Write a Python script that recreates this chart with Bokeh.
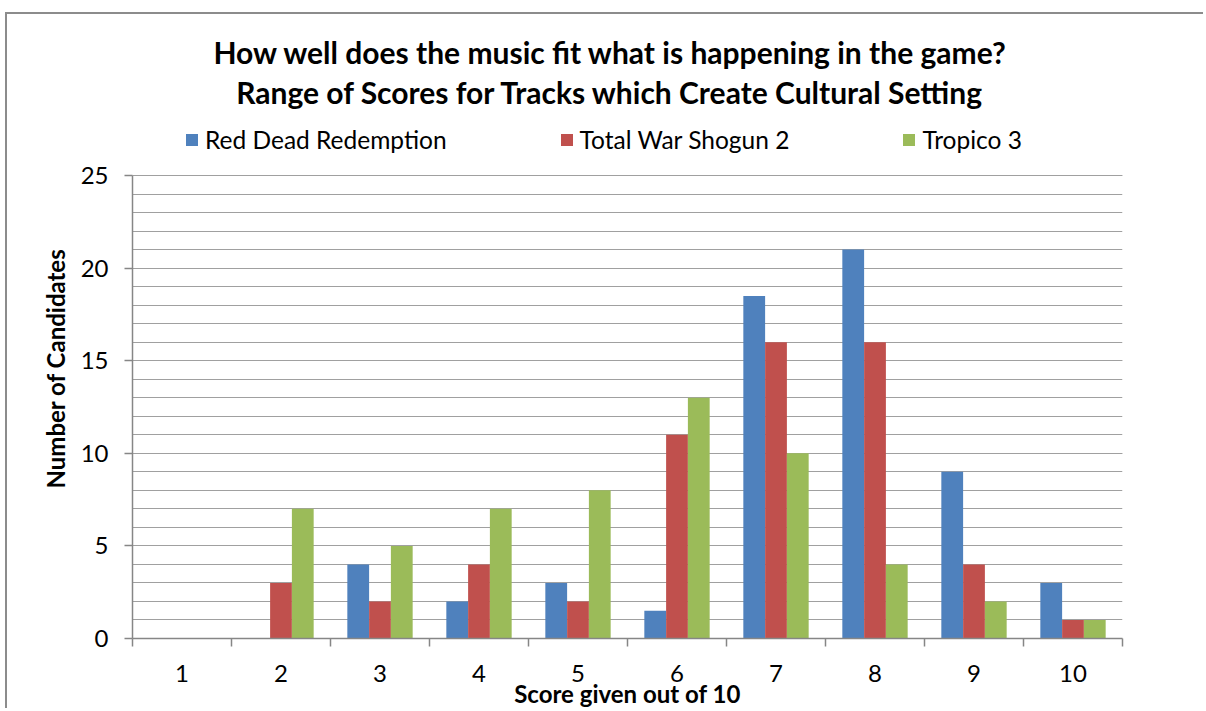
from bokeh.plotting import figure
from bokeh.models import (ColumnDataSource, Range1d, Legend, LegendItem, Label, Title,
                          FixedTicker)
from bokeh.transform import dodge
from bokeh.embed import file_html
from bokeh.resources import INLINE

# ---- data ----
scores = [1, 2, 3, 4, 5, 6, 7, 8, 9, 10]
score_labels = ["1", "2", "3", "4", "5", "6", "7", "8", "9", "10"]
red_dead = [0, 0, 4, 2, 3, 1.5, 18.5, 21, 9, 3]
total_war = [0, 3, 2, 4, 2, 11, 16, 16, 4, 1]
tropico = [0, 7, 5, 7, 8, 13, 10, 4, 2, 1]
series_names = ["Red Dead Redemption", "Total War Shogun 2", "Tropico 3"]
colors = ["#4F81BD", "#C0504D", "#9BBB59"]
title_lines = ["How well does the music fit what is happening in the game?",
               "Range of Scores for Tracks which Create Cultural Setting"]
x_title = "Score given out of 10"
y_title = "Number of Candidates"
y_max = 25
y_major = [0, 5, 10, 15, 20, 25]
y_minor = list(range(0, 26))

FONT = "Lato"
AXIS_GRAY = "#868686"

# plot area geometry: 463 px tall for 0..25, extra headroom for titles/legend
plot_h = 463
head_px = 161
y_top = y_max + head_px * y_max / plot_h

source = ColumnDataSource(dict(score=scores, red_dead=red_dead,
                               total_war=total_war, tropico=tropico))

p = figure(width=1198, height=696, output_backend="svg", toolbar_location=None,
           x_range=Range1d(0.5, 10.5), y_range=Range1d(0, y_top),
           min_border_left=125, min_border_top=0, min_border_right=83,
           min_border_bottom=72,
           styles={"border-top": "2px solid #8c8c8c", "border-left": "2px solid #8c8c8c",
                   "margin-top": "12px", "margin-left": "5px"})
p.outline_line_color = None
p.background_fill_color = "white"
p.border_fill_color = "white"

bw = 0.22
renderers = []
for key, off, col in zip(["red_dead", "total_war", "tropico"], [-bw, 0, bw], colors):
    r = p.vbar(x=dodge("score", off, range=p.x_range), top=key, width=bw,
               source=source, fill_color=col, line_color=None)
    renderers.append(r)

# x axis: labels at category centres, ticks at category boundaries
p.xaxis.ticker = FixedTicker(ticks=scores,
                             minor_ticks=[s - 0.5 for s in scores] + [scores[-1] + 0.5])
p.xaxis.major_label_overrides = {s: l for s, l in zip(scores, score_labels)}
p.xaxis.major_tick_out = 0
p.xaxis.major_tick_in = 0
p.xaxis.minor_tick_out = 8
p.xaxis.minor_tick_in = 0
p.xaxis.minor_tick_line_color = AXIS_GRAY
p.xaxis.minor_tick_line_width = 1.5
p.xaxis.major_label_standoff = 18
p.xaxis.axis_label = x_title
p.xaxis.axis_label_standoff = -6
p.xaxis.axis_label_text_font = FONT
p.xaxis.axis_label_text_font_style = "bold"
p.xaxis.axis_label_text_font_size = "24px"
p.xaxis.axis_label_text_color = "black"
p.xgrid.visible = False

p.yaxis.ticker = FixedTicker(ticks=y_major, minor_ticks=y_minor)
p.yaxis.bounds = (0, y_max)
p.yaxis.major_tick_out = 8
p.yaxis.major_tick_in = 0
p.yaxis.minor_tick_out = 0
p.yaxis.minor_tick_in = 0
p.yaxis.major_tick_line_color = AXIS_GRAY
p.yaxis.major_tick_line_width = 1.5
p.yaxis.major_label_standoff = 16

for ax in (p.xaxis, p.yaxis):
    ax.axis_line_color = AXIS_GRAY
    ax.axis_line_width = 1.5
    ax.major_label_text_font = FONT
    ax.major_label_text_font_size = "24px"
    ax.major_label_text_color = "black"

p.ygrid.grid_line_color = "#a0a0a0"
p.ygrid.grid_line_width = 1.2
p.ygrid.minor_grid_line_color = "#a0a0a0"
p.ygrid.minor_grid_line_width = 1.2
p.ygrid.level = "underlay"

# y-axis title as a side title, shifted to match the reference
p.add_layout(Title(text=y_title, align="left", offset=150, standoff=16,
                   text_font=FONT, text_font_style="bold", text_font_size="24px",
                   text_color="black"), "left")

# chart titles (screen units relative to frame bottom-left)
for text, y in zip(title_lines, [587, 547]):
    p.add_layout(Label(x=478, y=y, x_units="screen", y_units="screen", text=text,
                       text_align="center", text_baseline="middle",
                       text_font=FONT, text_font_style="bold",
                       text_font_size="30px", text_color="black"))

legend = Legend(items=[LegendItem(label=n, renderers=[r]) for n, r in zip(series_names, renderers)],
                orientation="horizontal", location=(52, 484), spacing=112,
                glyph_width=15, glyph_height=15, label_standoff=6, padding=0, margin=0,
                border_line_color=None, background_fill_alpha=0,
                label_text_font=FONT, label_text_font_size="24.5px",
                label_text_color="black")
p.add_layout(legend)

open("out.html", "w").write(file_html(p, INLINE))
